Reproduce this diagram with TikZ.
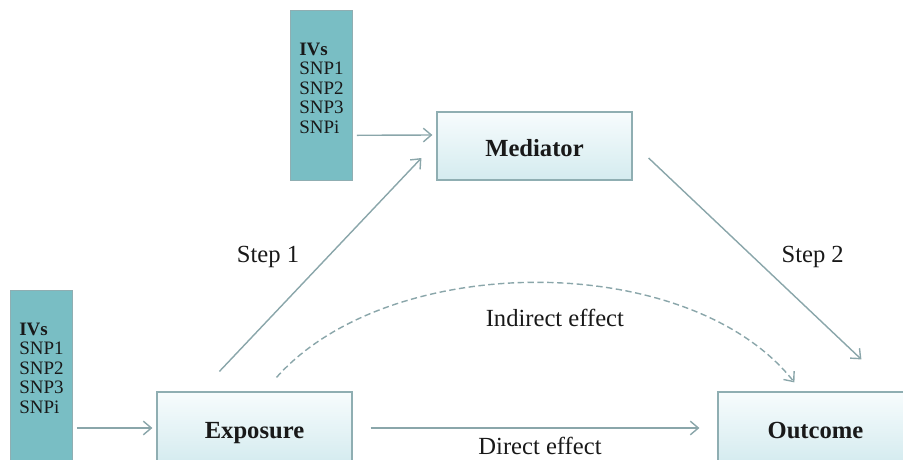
\documentclass[tikz,border=0pt]{standalone}
\usepackage{fontspec}
\setmainfont{Liberation Serif}
\usetikzlibrary{arrows.meta,positioning,calc}
\definecolor{ivteal}{RGB}{121,190,196}
\definecolor{boxedge}{RGB}{143,174,178}
\definecolor{boxtop}{RGB}{247,252,253}
\definecolor{boxbot}{RGB}{212,235,239}
\definecolor{arrowgray}{RGB}{138,166,170}
\definecolor{ink}{RGB}{25,25,25}

\begin{document}
\begin{tikzpicture}[
				x=0.025cm,y=-0.025cm,
				box/.style={draw=boxedge,line width=0.8pt,top color=boxtop,bottom color=boxbot,minimum width=4.875cm,minimum height=1.7cm,text height=0.55cm,text depth=0.05cm,text=ink,font=\fontsize{17.5}{20}\selectfont\bfseries},
				ivbox/.style={fill=ivteal,draw=boxedge,minimum width=1.55cm,minimum height=4.25cm,align=left,text depth=0.35cm,text=ink,font=\fontsize{13.5}{13.8}\selectfont},
				arr/.style={-{Straight Barb[length=2mm,width=3.4mm]},line width=1pt,arrowgray},
				lbl/.style={font=\fontsize{17.5}{20}\selectfont,inner sep=0pt,text=ink}
				]
				\useasboundingbox (0,0) rectangle (903,460);
				\clip (0,0) rectangle (903,460);
				
				\node[ivbox] (ivtop) at (321.5,95) {\textbf{IVs}\\SNP1\\SNP2\\SNP3\\SNPi};
				\node[ivbox] (ivbot) at (41.5,375) {\textbf{IVs}\\SNP1\\SNP2\\SNP3\\SNPi};
				\node[box] (mediator) at (534.5,146) {Mediator};
				\node[box,minimum height=1.8cm] (exposure) at (254.5,428) {Exposure};
				\node[box,minimum height=1.8cm] (outcome) at (815.5,428) {Outcome};
				
				% Arrows
				\draw[arr] ($(ivtop.south east)+(4,-45)$) -- ($(mediator.west)+(-4,-11)$);
				\draw[arr,shorten <=0.1cm,shorten >=0.1cm] (ivbot.east |- exposure.west) -- (exposure.west);
				\draw[arr] ($(exposure.north west)+(63,-20)$) -- ($(mediator.west)+(-15,12)$) node[lbl,pos=0.537,left=0.7cm] {Step 1};
				\draw[arr] ($(mediator.east)+(16,12)$) -- ($(outcome.north west)+(144,-32)$) node[lbl,pos=0.49,right=0.7cm] {Step 2};
				\draw[arr,dash pattern=on 4.5pt off 2.5pt] ($(exposure.north)+(22,-14)$) .. controls (390,250) and (690,250) .. ($(outcome.north west)+(77,-9)$) node[lbl,pos=0.5,below=0.65cm,xshift=0.4cm] {Indirect effect};
				\draw[arr,shorten <=0.45cm,shorten >=0.45cm] (exposure) -- (outcome) node[lbl,midway,below=0.2cm,xshift=0.125cm] {Direct effect};
				
			\end{tikzpicture}
\end{document}
